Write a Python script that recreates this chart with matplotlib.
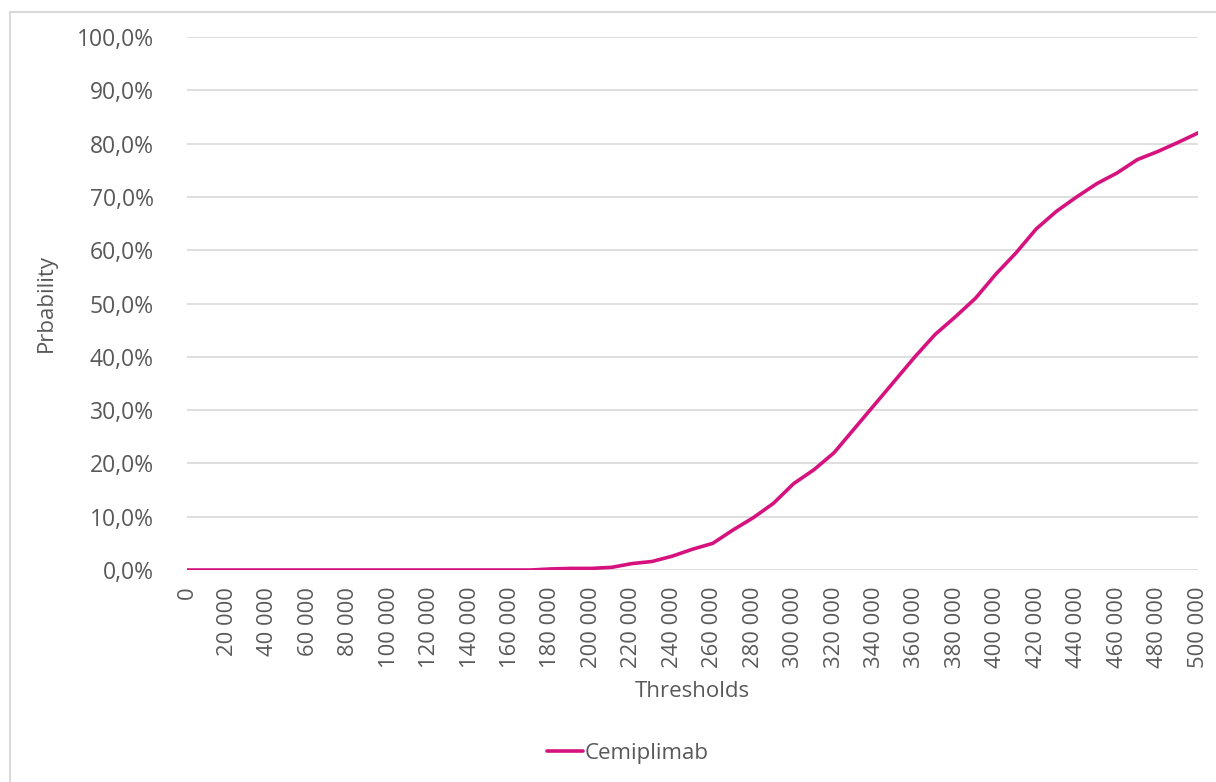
import numpy as np
import matplotlib
matplotlib.use('Agg')
from matplotlib import pyplot as plt
from matplotlib.patches import Rectangle
from matplotlib.ticker import FuncFormatter

plt.rcParams['font.family'] = ['Open Sans', 'DejaVu Sans']

# willingness-to-pay thresholds and probability of cost-effectiveness
thresholds = list(range(0, 500001, 10000))
cemiplimab = [0.0] * 18 + [
    0.2, 0.3, 0.3, 0.5, 1.2, 1.6, 2.6, 3.9, 5.0, 7.5,
    9.8, 12.5, 16.2, 18.8, 22.0, 26.5, 31.0, 35.5, 40.0, 44.2,
    47.5, 51.0, 55.5, 59.5, 64.0, 67.3, 70.0, 72.5, 74.5, 77.0,
    78.5, 80.2, 82.0]
tick_labels = [f"{t:,}".replace(",", " ") for t in thresholds[::2]]

grey = '#595959'

fig = plt.figure(figsize=(12.16, 7.82), dpi=100)
# chart frame (only top and left edges are in view)
fig.patches.append(Rectangle((10 / 1216, -0.1), 1.2, 1 - 12 / 782 + 0.1,
                             transform=fig.transFigure, fill=False,
                             edgecolor='#D9D9D9', linewidth=1.5))

ax = fig.add_axes([187 / 1216, 1 - 570 / 782, (1198 - 187) / 1216, (570 - 37) / 782])
ax.plot(thresholds, cemiplimab, color='#D6127F', linewidth=2.6,
        solid_capstyle='round', label='Cemiplimab', zorder=3)

ax.set_xlim(0, 500000)
ax.set_ylim(0, 100)
ax.set_yticks(np.arange(0, 101, 10))
ax.yaxis.set_major_formatter(FuncFormatter(lambda v, p: f"{v:.1f}%".replace(".", ",")))
ax.set_xticks(thresholds[::2])
ax.set_xticklabels(tick_labels, rotation=90)
ax.grid(axis='y', color='#D9D9D9', linewidth=1.2)
ax.set_axisbelow(True)
for s in ax.spines.values():
    s.set_visible(False)
ax.tick_params(length=0, colors=grey)
ax.tick_params(axis='y', pad=24, labelsize=16.5)
ax.tick_params(axis='x', pad=12, labelsize=15.8)

ax.set_xlabel('Thresholds', color=grey, fontsize=16)
ax.xaxis.set_label_coords(0.5, -0.208)
ax.set_ylabel('Prbability', color=grey, fontsize=16)
ax.yaxis.set_label_coords(-0.129, 0.5)

fig.legend(loc='center', bbox_to_anchor=(628 / 1216, 1 - 753 / 782), frameon=False,
           fontsize=16, labelcolor=grey, handlelength=1.6, handletextpad=0.1)

fig.savefig('out.png', dpi=100)
